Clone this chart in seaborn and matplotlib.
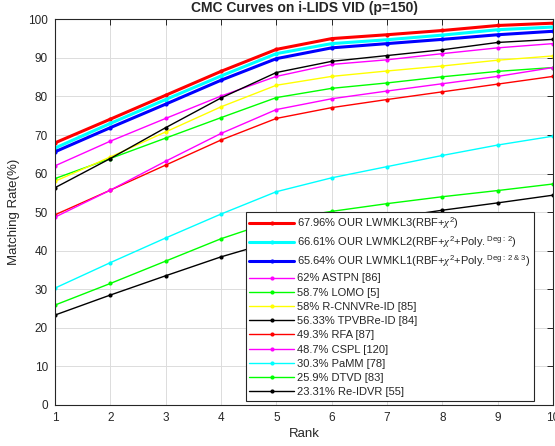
import numpy as np
import pandas as pd
import matplotlib
matplotlib.use("Agg")
import matplotlib.pyplot as plt
from matplotlib.mathtext import MathTextParser
import seaborn as sns

# ranks on the x axis
ranks = [1, 2, 3, 4, 5, 6, 7, 8, 9, 10]

# matching rates, one list per method
lwmkl3 = [67.96, 74.1, 80.3, 86.5, 92.2, 95.0, 96.0, 97.1, 98.4, 99.0]
lwmkl2 = [66.61, 73.0, 79.2, 85.3, 91.1, 93.7, 94.7, 95.9, 97.3, 98.0]
lwmkl1 = [65.64, 71.9, 78.0, 84.2, 89.8, 92.6, 93.7, 94.8, 96.0, 96.9]
astpn = [62.0, 68.4, 74.3, 80.1, 85.2, 88.3, 89.5, 91.1, 92.6, 93.7]
lomo = [58.7, 63.9, 69.2, 74.5, 79.7, 82.1, 83.5, 85.1, 86.5, 87.5]
rcnn = [58.0, 64.3, 70.8, 77.3, 82.9, 85.2, 86.6, 87.9, 89.4, 90.5]
tpvb = [56.33, 63.9, 71.9, 79.6, 86.2, 89.1, 90.6, 92.1, 94.0, 94.8]
rfa = [49.3, 55.7, 62.2, 68.7, 74.3, 77.1, 79.2, 81.2, 83.2, 85.2]
cspl = [48.7, 55.7, 63.2, 70.4, 76.6, 79.4, 81.4, 83.3, 85.2, 87.5]
pamm = [30.3, 36.9, 43.3, 49.5, 55.3, 58.9, 61.8, 64.7, 67.4, 69.7]
dtvd = [25.9, 31.5, 37.3, 43.1, 47.9, 50.2, 52.2, 54.0, 55.6, 57.3]
reidvr = [23.31, 28.5, 33.5, 38.4, 42.6, 45.9, 48.4, 50.5, 52.4, 54.4]

sns.set_style("white")
plt.rcParams["font.family"] = ["Liberation Sans", "DejaVu Sans"]
plt.rcParams["mathtext.fontset"] = "custom"
plt.rcParams["mathtext.rm"] = "Liberation Sans"
plt.rcParams["mathtext.it"] = "Liberation Serif:italic"

# pick a superscript form for "Deg: 2 & 3" that mathtext can parse
_p = MathTextParser("agg")
deg23 = None
for cand in [r"${.}^{\mathrm{Deg:\ 2\ &\ 3}}$",
             r"${.}^{\mathrm{Deg:\ 2}\ \&\ \mathrm{3}}$",
             r"${.}^{\mathrm{Deg:\ 2\ and\ 3}}$"]:
    try:
        _p.parse(cand, 100)
        deg23 = cand
        break
    except Exception:
        pass

labels = [
    r"67.96% OUR LWMKL3(RBF+$\chi^2$)",
    r"66.61% OUR LWMKL2(RBF+$\chi^2$+Poly${.}^{\mathrm{Deg:\ 2}}$)",
    r"65.64% OUR LWMKL1(RBF+$\chi^2$+Poly" + deg23 + ")",
    "62% ASTPN [86]",
    "58.7% LOMO [5]",
    "58% R-CNNVRe-ID [85]",
    "56.33% TPVBRe-ID [84]",
    "49.3% RFA [87]",
    "48.7% CSPL [120]",
    "30.3% PaMM [78]",
    "25.9% DTVD [83]",
    "23.31% Re-IDVR [55]",
]
series = [lwmkl3, lwmkl2, lwmkl1, astpn, lomo, rcnn, tpvb, rfa, cspl, pamm, dtvd, reidvr]
colors = ["#ff0000", "#00ffff", "#0000ff", "#ff00ff", "#00ff00", "#ffff00",
          "#000000", "#ff0000", "#ff00ff", "#00ffff", "#00ff00", "#000000"]
widths = [2.2, 2.2, 2.2, 1.0, 1.0, 1.0, 1.0, 1.0, 1.0, 1.0, 1.0, 1.0]

df = pd.DataFrame({
    "Rank": np.tile(ranks, len(series)),
    "Rate": np.concatenate(series),
    "Method": np.repeat(labels, len(ranks)),
})

fig = plt.figure(figsize=(5.55, 4.46), dpi=100)
ax = fig.add_axes([0.099, 0.092, 0.8975, 0.8647])

for lab, col, lw in zip(labels, colors, widths):
    sns.lineplot(data=df[df["Method"] == lab], x="Rank", y="Rate", ax=ax,
                 color=col, linewidth=lw, marker="o", markersize=3.0,
                 markeredgewidth=0, label=lab)

ax.set_xlim(1, 10)
ax.set_ylim(0, 100)
ax.set_xticks(ranks)
ax.set_yticks(range(0, 101, 10))
ax.grid(True, color="#dcdcdc", linewidth=0.7)
ax.tick_params(direction="in", length=4, width=0.7, colors="#262626",
               labelsize=8.5, top=True, right=True, pad=5)
for s in ax.spines.values():
    s.set_color("#262626")
    s.set_linewidth(0.8)

ax.set_xlabel("Rank", fontsize=9.5, color="#262626", labelpad=3)
ax.set_ylabel("Matching Rate(%)", fontsize=9.5, color="#262626", labelpad=6)
ax.set_title("CMC Curves on i-LIDS VID (p=150)", fontsize=10, fontweight="bold",
             pad=5)

leg = ax.legend(loc="lower right", bbox_to_anchor=(0.961, 0.01), fontsize=8,
                frameon=True, fancybox=False, framealpha=1, edgecolor="#262626",
                handlelength=4.0, handletextpad=0.25, labelspacing=0.38,
                borderpad=0.35, borderaxespad=0)
leg.get_frame().set_linewidth(0.8)

fig.savefig("out.png", dpi=100)
